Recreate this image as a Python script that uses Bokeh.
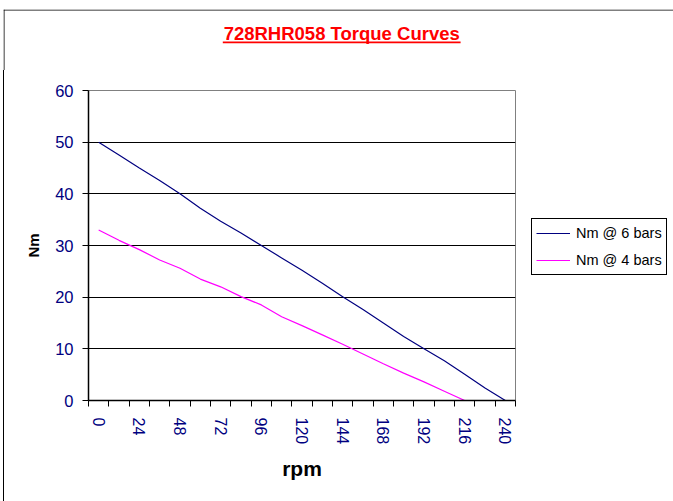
import math
from bokeh.plotting import figure
from bokeh.layouts import column, row
from bokeh.models import Range1d, FixedTicker, Legend, LegendItem, Spacer
from bokeh.core.properties import value
from bokeh.embed import file_html
from bokeh.resources import INLINE

# ---- data ----
rpm = [0, 12, 24, 36, 48, 60, 72, 84, 96, 108, 120, 132, 144, 156, 168, 180, 192, 204, 216, 228, 240]
nm_6_bars = [50, 47.5, 45, 42.6, 40, 37.2, 34.7, 32.4, 30, 27.6, 25.2, 22.7, 20.1, 17.6, 15, 12.4, 10, 7.7, 5.1, 2.4, 0]
nm_4_bars = [33, 31, 29.2, 27.2, 25.6, 23.5, 22, 20.1, 18.5, 16.2, 14.5, 12.7, 10.9, 9.0, 7.1, 5.3, 3.6, 1.8, 0,
             float("nan"), float("nan")]
x_tick_labels = [0, 24, 48, 72, 96, 120, 144, 168, 192, 216, 240]
y_ticks = [0, 10, 20, 30, 40, 50, 60]
title_text = "728RHR058 Torque Curves"
series_labels = ["Nm @ 6 bars", "Nm @ 4 bars"]
series_colors = ["#000080", "#FF00FF"]

FONT = "Liberation Sans"
NAVY = "#000080"

TW, TH = 670, 61           # title strip (includes chart-area top/left border)
H = 431                    # height of chart row
ML, MR, MT, MB = 84, 10, 20, 101
FW = 427                   # plot frame width
W = ML + FW + MR           # main figure width (plus a 1px CSS left border)
LGAP = 7                   # gap between main figure and legend strip
LTOP = 148                 # legend top offset inside chart row
LW = TW - (W + 1) - LGAP   # legend strip width
LH = 60                    # legend strip height

# ---- title strip: its frame covers the whole strip, so nothing is clipped ----
tp = figure(width=TW, height=TH, output_backend="svg", toolbar_location=None,
            x_range=Range1d(0, TW), y_range=Range1d(TH, 0),
            min_border=0, border_fill_color="white", background_fill_color="white")
tp.axis.visible = False
tp.grid.visible = False
tp.outline_line_color = None
tp.segment(x0=[0, 0.5], y0=[0.5, 0], x1=[TW, 0.5], y1=[0.5, TH], line_color="black", line_width=1)
tp.text(x=[338.2], y=[24.0], text=[title_text], text_align="center",
        text_baseline="alphabetic", text_font=value(FONT), text_font_style="bold",
        text_font_size="18.5px", text_color="red")
tp.segment(x0=[219.3], y0=[32.8], x1=[457.1], y1=[32.8], line_color="red", line_width=1.7)

# ---- main chart ----
step = rpm[1] - rpm[0]
x_lo, x_hi = rpm[0] - step / 2, rpm[-1] + step / 2

p = figure(width=W, height=H, output_backend="svg", toolbar_location=None,
           x_range=Range1d(x_lo, x_hi), y_range=Range1d(y_ticks[0], y_ticks[-1]),
           min_border_left=ML, min_border_right=MR, min_border_top=MT, min_border_bottom=MB,
           background_fill_color="white", border_fill_color="white")
p.outline_line_color = "#808080"
p.outline_line_width = 1
p.styles = {"border-left": "1px solid black"}   # left edge of the chart-area border

p.line(rpm, nm_6_bars, line_color=series_colors[0], line_width=1.2)
p.line(rpm, nm_4_bars, line_color=series_colors[1], line_width=1.2)

boundaries = [r - step / 2 for r in rpm] + [rpm[-1] + step / 2]
xax = p.xaxis[0]
xax.ticker = FixedTicker(ticks=x_tick_labels, minor_ticks=boundaries)
xax.major_tick_out = 0
xax.major_tick_in = 0
xax.minor_tick_out = 6
xax.minor_tick_in = 0
xax.minor_tick_line_color = "black"
xax.axis_line_color = "black"
xax.axis_line_width = 1.5
xax.major_label_orientation = -math.pi / 2
xax.major_label_text_font = FONT
xax.major_label_text_font_size = "16px"
xax.major_label_text_color = NAVY
xax.major_label_standoff = 11
xax.axis_label = "rpm"
xax.axis_label_text_font = FONT
xax.axis_label_text_font_style = "bold"
xax.axis_label_text_font_size = "21px"
xax.axis_label_text_color = "black"
xax.axis_label_standoff = 10

yax = p.yaxis[0]
yax.ticker = FixedTicker(ticks=y_ticks, minor_ticks=[])
yax.major_tick_out = 6
yax.major_tick_in = 0
yax.major_tick_line_color = "black"
yax.axis_line_color = "black"
yax.axis_line_width = 1.5
yax.major_label_text_font = FONT
yax.major_label_text_font_size = "16.5px"
yax.major_label_text_color = NAVY
yax.major_label_standoff = 9
yax.axis_label = "Nm"
yax.axis_label_text_font = FONT
yax.axis_label_text_font_style = "bold"
yax.axis_label_text_font_size = "15px"
yax.axis_label_text_color = "black"
yax.axis_label_standoff = 10

p.xgrid.visible = False
p.ygrid.ticker = FixedTicker(ticks=y_ticks[1:-1])
p.ygrid.grid_line_color = "black"
p.ygrid.grid_line_width = 1

# ---- legend strip (its own frame, so the legend is not clipped) ----
lf = figure(width=LW, height=LH, output_backend="svg", toolbar_location=None,
            x_range=Range1d(-1, 0), y_range=Range1d(-1, 0),
            min_border=0, border_fill_color="white", background_fill_color="white")
lf.axis.visible = False
lf.grid.visible = False
lf.outline_line_color = None
# same series, drawn outside this strip's visible range, only to key the legend
k6 = lf.line(rpm, nm_6_bars, line_color=series_colors[0], line_width=1.2)
k4 = lf.line(rpm, nm_4_bars, line_color=series_colors[1], line_width=1.2)

legend = Legend(items=[LegendItem(label=series_labels[0], renderers=[k6]),
                       LegendItem(label=series_labels[1], renderers=[k4])],
                location="top_left")
legend.border_line_color = "black"
legend.border_line_width = 1
legend.border_line_alpha = 1
legend.background_fill_color = "white"
legend.background_fill_alpha = 1
legend.label_text_font = FONT
legend.label_text_font_size = "14.5px"
legend.label_text_color = "black"
legend.glyph_width = 34
legend.glyph_height = 20
legend.label_height = 20
legend.label_standoff = 6
legend.padding = 4
legend.spacing = 7
legend.margin = 0
lf.add_layout(legend)

legend_col = column(Spacer(width=LW, height=LTOP), lf)
layout = row(Spacer(width=3, height=TH + H + 9),
             column(Spacer(width=TW, height=9), tp,
                    row(p, Spacer(width=LGAP, height=H), legend_col)))

open("out.html", "w").write(file_html(layout, INLINE))
